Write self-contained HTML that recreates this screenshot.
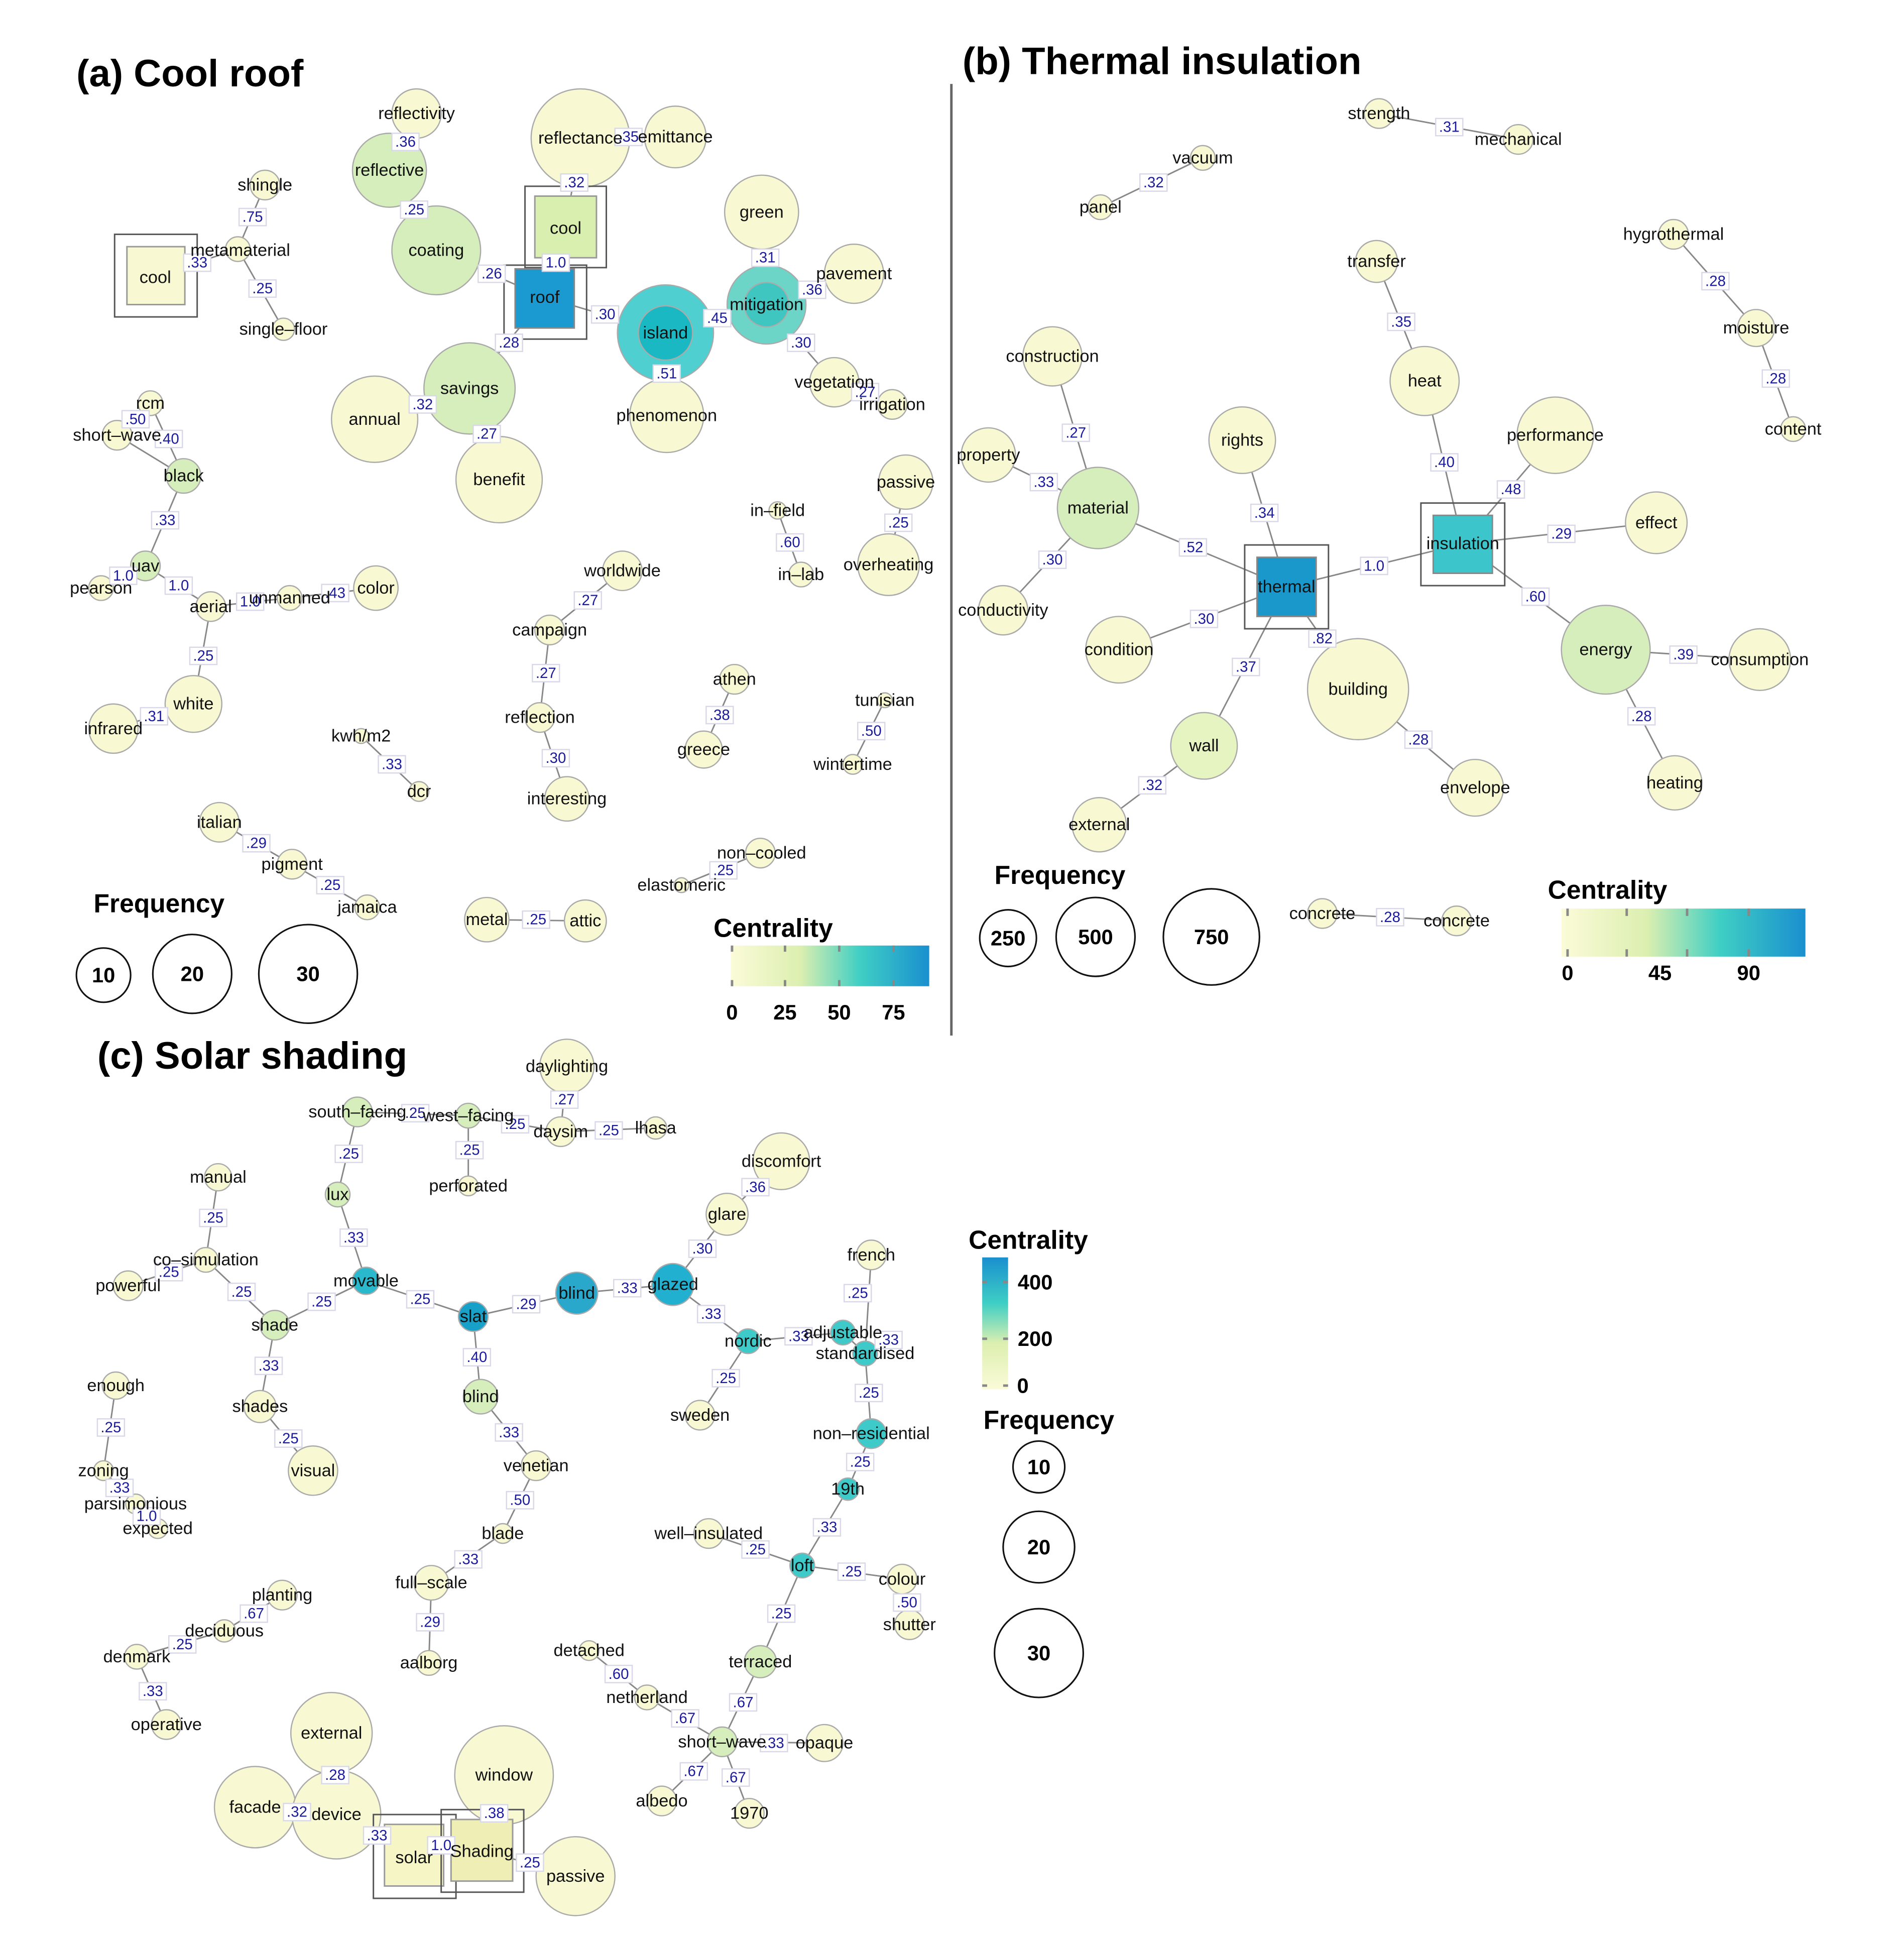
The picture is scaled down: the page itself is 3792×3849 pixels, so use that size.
<!DOCTYPE html>
<html><head><meta charset="utf-8"><style>
html,body{margin:0;padding:0;background:#fff}
svg{display:block}
text{font-family:"Liberation Sans",sans-serif}
.n{font-size:14px;text-anchor:middle;dominant-baseline:central;fill:#111}
.t{font-size:31px;font-weight:bold;font-family:"Liberation Sans",sans-serif}
.h{font-size:21px;font-weight:bold}
.lg{font-size:17px;font-weight:bold;text-anchor:middle;dominant-baseline:central}
.e line{stroke:#888;stroke-width:1.2}
.c circle{stroke:#aaa;stroke-width:1}
.y{fill:#f8f9d2}.g{fill:#d6eebb}.q{fill:#3fcaca}.b{fill:#1c9dcb}
.el rect{fill:#fff;stroke:#d8d8e8;stroke-width:1}
.el text{font-size:12px;fill:#1a1a9e;text-anchor:middle;dominant-baseline:central}
</style></head><body>
<svg width="3792" height="3849" viewBox="0 0 1545 1568" xmlns="http://www.w3.org/2000/svg">
<defs>
<linearGradient id="gh" x1="0" x2="1" y1="0" y2="0"><stop offset="0" stop-color="#fbfbd8"/><stop offset=".35" stop-color="#dcefb0"/><stop offset=".65" stop-color="#3fcfc4"/><stop offset="1" stop-color="#1a8fcf"/></linearGradient>
<linearGradient id="gv" x1="0" x2="0" y1="1" y2="0"><stop offset="0" stop-color="#fbfbd8"/><stop offset=".35" stop-color="#dcefb0"/><stop offset=".65" stop-color="#3fcfc4"/><stop offset="1" stop-color="#1a8fcf"/></linearGradient>
</defs>
<text class="t" x="62" y="70">(a) Cool roof</text>
<text class="t" x="781" y="60">(b) Thermal insulation</text>
<text class="t" x="79" y="867">(c) Solar shading</text>
<line x1="772" y1="68" x2="772" y2="840" stroke="#666" stroke-width="2"/>

<g class="e">
<line x1="126" y1="224" x2="193" y2="202"/><line x1="193" y1="202" x2="215" y2="150"/><line x1="193" y1="202" x2="230" y2="267"/>
<line x1="338" y1="92" x2="316" y2="138"/><line x1="316" y1="138" x2="354" y2="203"/><line x1="471" y1="112" x2="548" y2="111"/>
<line x1="471" y1="112" x2="459" y2="185"/><line x1="459" y1="185" x2="442" y2="241"/><line x1="354" y1="203" x2="442" y2="241"/>
<line x1="442" y1="241" x2="540" y2="270"/><line x1="540" y1="270" x2="622" y2="247"/><line x1="622" y1="247" x2="618" y2="172"/>
<line x1="622" y1="247" x2="693" y2="222"/><line x1="622" y1="247" x2="677" y2="310"/><line x1="677" y1="310" x2="724" y2="328"/>
<line x1="540" y1="270" x2="541" y2="337"/><line x1="442" y1="241" x2="381" y2="315"/><line x1="381" y1="315" x2="304" y2="340"/><line x1="381" y1="315" x2="405" y2="389"/>
<line x1="122" y1="327" x2="149" y2="386"/><line x1="95" y1="353" x2="149" y2="386"/><line x1="149" y1="386" x2="118" y2="459"/>
<line x1="118" y1="459" x2="82" y2="477"/><line x1="118" y1="459" x2="171" y2="492"/><line x1="171" y1="492" x2="235" y2="485"/>
<line x1="235" y1="485" x2="305" y2="477"/><line x1="171" y1="492" x2="157" y2="571"/><line x1="157" y1="571" x2="92" y2="591"/>
<line x1="631" y1="414" x2="650" y2="466"/><line x1="735" y1="391" x2="721" y2="458"/><line x1="505" y1="463" x2="446" y2="511"/>
<line x1="446" y1="511" x2="438" y2="582"/><line x1="438" y1="582" x2="460" y2="648"/><line x1="596" y1="551" x2="571" y2="608"/>
<line x1="718" y1="568" x2="692" y2="620"/><line x1="293" y1="597" x2="340" y2="642"/><line x1="178" y1="667" x2="237" y2="701"/>
<line x1="237" y1="701" x2="298" y2="736"/><line x1="395" y1="746" x2="475" y2="747"/><line x1="617" y1="692" x2="553" y2="718"/>

<line x1="1119" y1="92" x2="1232" y2="113"/><line x1="976" y1="128" x2="893" y2="168"/><line x1="1358" y1="190" x2="1425" y2="266"/>
<line x1="1425" y1="266" x2="1455" y2="348"/><line x1="1117" y1="212" x2="1156" y2="309"/><line x1="1156" y1="309" x2="1187" y2="441"/>
<line x1="854" y1="289" x2="891" y2="412"/><line x1="802" y1="369" x2="891" y2="412"/><line x1="891" y1="412" x2="814" y2="495"/>
<line x1="891" y1="412" x2="1044" y2="476"/><line x1="1008" y1="357" x2="1044" y2="476"/><line x1="908" y1="527" x2="1044" y2="476"/>
<line x1="1044" y1="476" x2="1187" y2="441"/><line x1="1044" y1="476" x2="1102" y2="559"/><line x1="1044" y1="476" x2="977" y2="605"/>
<line x1="977" y1="605" x2="892" y2="669"/><line x1="1102" y1="559" x2="1197" y2="639"/><line x1="1187" y1="441" x2="1262" y2="353"/>
<line x1="1187" y1="441" x2="1344" y2="424"/><line x1="1187" y1="441" x2="1303" y2="527"/><line x1="1303" y1="527" x2="1428" y2="535"/>
<line x1="1303" y1="527" x2="1359" y2="635"/><line x1="1073" y1="741" x2="1182" y2="747"/>

<line x1="460" y1="865" x2="455" y2="918"/><line x1="455" y1="918" x2="532" y2="915"/><line x1="455" y1="918" x2="380" y2="905"/>
<line x1="380" y1="905" x2="380" y2="962"/><line x1="380" y1="905" x2="290" y2="902"/><line x1="290" y1="902" x2="274" y2="969"/>
<line x1="274" y1="969" x2="297" y2="1039"/><line x1="177" y1="955" x2="167" y2="1022"/><line x1="167" y1="1022" x2="104" y2="1043"/>
<line x1="167" y1="1022" x2="223" y2="1075"/><line x1="223" y1="1075" x2="297" y2="1039"/><line x1="223" y1="1075" x2="211" y2="1141"/>
<line x1="211" y1="1141" x2="254" y2="1193"/><line x1="297" y1="1039" x2="384" y2="1068"/><line x1="384" y1="1068" x2="468" y2="1049"/>
<line x1="468" y1="1049" x2="546" y2="1042"/><line x1="546" y1="1042" x2="590" y2="985"/><line x1="590" y1="985" x2="634" y2="942"/>
<line x1="546" y1="1042" x2="607" y2="1088"/><line x1="607" y1="1088" x2="684" y2="1081"/><line x1="684" y1="1081" x2="702" y2="1098"/>
<line x1="707" y1="1018" x2="702" y2="1098"/><line x1="702" y1="1098" x2="707" y2="1163"/><line x1="607" y1="1088" x2="568" y2="1148"/>
<line x1="707" y1="1163" x2="688" y2="1208"/><line x1="688" y1="1208" x2="651" y2="1270"/><line x1="651" y1="1270" x2="575" y2="1244"/>
<line x1="651" y1="1270" x2="732" y2="1281"/><line x1="732" y1="1281" x2="738" y2="1318"/><line x1="651" y1="1270" x2="617" y2="1348"/>
<line x1="617" y1="1348" x2="586" y2="1413"/><line x1="478" y1="1339" x2="525" y2="1377"/><line x1="525" y1="1377" x2="586" y2="1413"/>
<line x1="586" y1="1413" x2="669" y2="1414"/><line x1="586" y1="1413" x2="537" y2="1461"/><line x1="586" y1="1413" x2="608" y2="1471"/>
<line x1="384" y1="1068" x2="390" y2="1133"/><line x1="390" y1="1133" x2="435" y2="1189"/><line x1="435" y1="1189" x2="408" y2="1244"/>
<line x1="408" y1="1244" x2="350" y2="1284"/><line x1="350" y1="1284" x2="348" y2="1349"/><line x1="94" y1="1124" x2="84" y2="1193"/>
<line x1="84" y1="1193" x2="110" y2="1220"/><line x1="110" y1="1220" x2="128" y2="1240"/><line x1="229" y1="1294" x2="182" y2="1323"/>
<line x1="182" y1="1323" x2="111" y2="1344"/><line x1="111" y1="1344" x2="135" y2="1399"/><line x1="269" y1="1406" x2="273" y2="1472"/>
<line x1="207" y1="1466" x2="273" y2="1472"/><line x1="273" y1="1472" x2="336" y2="1506"/><line x1="336" y1="1506" x2="391" y2="1501"/>
<line x1="409" y1="1440" x2="391" y2="1501"/><line x1="391" y1="1501" x2="467" y2="1522"/>
</g>

<g class="c">
<circle class="y" cx="193" cy="202" r="10"/><circle class="y" cx="215" cy="150" r="12"/><circle class="y" cx="230" cy="267" r="9"/>
<circle class="y" cx="338" cy="92" r="20"/><circle class="g" cx="316" cy="138" r="30"/><circle class="g" cx="354" cy="203" r="36"/>
<circle class="y" cx="471" cy="112" r="40"/><circle class="y" cx="548" cy="111" r="25"/>
<circle fill="#4fcfcf" cx="540" cy="270" r="39"/><circle fill="#19b8c2" stroke="none" cx="540" cy="270" r="22"/>
<circle fill="#6dd5c8" cx="622" cy="247" r="32"/><circle fill="#3fc6c0" stroke="none" cx="622" cy="247" r="18"/>
<circle class="y" cx="618" cy="172" r="30"/><circle class="y" cx="693" cy="222" r="24"/><circle class="y" cx="677" cy="310" r="20"/>
<circle class="y" cx="724" cy="328" r="12"/><circle class="y" cx="541" cy="337" r="30"/><circle class="g" cx="381" cy="315" r="37"/>
<circle class="y" cx="304" cy="340" r="35"/><circle class="y" cx="405" cy="389" r="35"/>
<circle class="y" cx="122" cy="327" r="10"/><circle class="y" cx="95" cy="353" r="12"/><circle class="g" cx="149" cy="386" r="14"/>
<circle class="g" cx="118" cy="459" r="12"/><circle class="y" cx="82" cy="477" r="10"/><circle class="y" cx="171" cy="492" r="12"/>
<circle class="y" cx="235" cy="485" r="10"/><circle class="y" cx="305" cy="477" r="18"/><circle class="y" cx="157" cy="571" r="23"/>
<circle class="y" cx="92" cy="591" r="20"/><circle class="y" cx="631" cy="414" r="7"/><circle class="y" cx="650" cy="466" r="10"/>
<circle class="y" cx="735" cy="391" r="22"/><circle class="y" cx="721" cy="458" r="25"/><circle class="y" cx="505" cy="463" r="16"/>
<circle class="y" cx="446" cy="511" r="12"/><circle class="y" cx="438" cy="582" r="12"/><circle class="y" cx="460" cy="648" r="18"/>
<circle class="y" cx="596" cy="551" r="12"/><circle class="y" cx="571" cy="608" r="15"/><circle class="y" cx="718" cy="568" r="6"/>
<circle class="y" cx="692" cy="620" r="8"/><circle class="y" cx="293" cy="597" r="6"/><circle class="y" cx="340" cy="642" r="8"/>
<circle class="y" cx="178" cy="667" r="16"/><circle class="y" cx="237" cy="701" r="12"/><circle class="y" cx="298" cy="736" r="10"/>
<circle class="y" cx="395" cy="746" r="18"/><circle class="y" cx="475" cy="747" r="17"/><circle class="y" cx="617" cy="692" r="12"/><circle class="y" cx="553" cy="718" r="6"/>
<circle class="y" cx="1119" cy="92" r="12"/><circle class="y" cx="1232" cy="113" r="12"/><circle class="y" cx="976" cy="128" r="10"/>
<circle class="y" cx="893" cy="168" r="10"/><circle class="y" cx="1358" cy="190" r="12"/><circle class="y" cx="1425" cy="266" r="15"/>
<circle class="y" cx="1455" cy="348" r="10"/><circle class="y" cx="1117" cy="212" r="17"/><circle class="y" cx="1156" cy="309" r="28"/>
<circle class="y" cx="854" cy="289" r="24"/><circle class="y" cx="802" cy="369" r="22"/><circle class="g" cx="891" cy="412" r="33"/>
<circle class="y" cx="814" cy="495" r="20"/><circle class="y" cx="1008" cy="357" r="27"/><circle class="y" cx="908" cy="527" r="27"/>
<circle class="y" cx="1262" cy="353" r="31"/><circle class="y" cx="1344" cy="424" r="25"/><circle class="g" cx="1303" cy="527" r="36"/>
<circle class="y" cx="1428" cy="535" r="25"/><circle class="y" cx="1359" cy="635" r="22"/><circle class="y" cx="1102" cy="559" r="41"/>
<circle class="y" cx="1197" cy="639" r="23"/><circle fill="#e6f4c2" cx="977" cy="605" r="27"/><circle class="y" cx="892" cy="669" r="22"/>
<circle class="y" cx="1073" cy="741" r="12"/><circle class="y" cx="1182" cy="747" r="12"/>
<circle class="y" cx="460" cy="865" r="22"/><circle class="y" cx="455" cy="918" r="12"/><circle class="y" cx="532" cy="915" r="9"/>
<circle class="g" cx="380" cy="905" r="10"/><circle class="y" cx="380" cy="962" r="8"/><circle class="g" cx="290" cy="902" r="12"/>
<circle class="g" cx="274" cy="969" r="10"/><circle fill="#2ab8cc" cx="297" cy="1039" r="11"/><circle class="y" cx="177" cy="955" r="11"/>
<circle class="y" cx="167" cy="1022" r="10"/><circle class="y" cx="104" cy="1043" r="12"/><circle class="g" cx="223" cy="1075" r="12"/>
<circle class="y" cx="211" cy="1141" r="13"/><circle class="y" cx="254" cy="1193" r="20"/><circle fill="#17a0c8" cx="384" cy="1068" r="12"/>
<circle fill="#2aa8cc" cx="468" cy="1049" r="17"/><circle fill="#22b0d0" cx="546" cy="1042" r="17"/><circle class="y" cx="634" cy="942" r="23"/>
<circle class="y" cx="590" cy="985" r="17"/><circle class="q" cx="607" cy="1088" r="10"/><circle class="q" cx="684" cy="1081" r="10"/>
<circle class="q" cx="702" cy="1098" r="10"/><circle class="y" cx="707" cy="1018" r="12"/><circle class="y" cx="568" cy="1148" r="12"/>
<circle class="q" cx="707" cy="1163" r="12"/><circle class="q" cx="688" cy="1208" r="9"/><circle class="q" cx="651" cy="1270" r="10"/>
<circle class="y" cx="575" cy="1244" r="12"/><circle class="y" cx="732" cy="1281" r="12"/><circle class="y" cx="738" cy="1318" r="12"/>
<circle class="g" cx="617" cy="1348" r="13"/><circle class="y" cx="478" cy="1339" r="8"/><circle class="y" cx="525" cy="1377" r="10"/>
<circle class="g" cx="586" cy="1413" r="12"/><circle class="y" cx="669" cy="1414" r="15"/><circle class="y" cx="537" cy="1461" r="12"/>
<circle class="y" cx="608" cy="1471" r="12"/><circle class="g" cx="390" cy="1133" r="14"/><circle class="y" cx="435" cy="1189" r="12"/>
<circle class="y" cx="408" cy="1244" r="8"/><circle class="y" cx="350" cy="1284" r="14"/><circle class="y" cx="348" cy="1349" r="10"/>
<circle class="y" cx="94" cy="1124" r="11"/><circle class="y" cx="84" cy="1193" r="8"/><circle class="y" cx="110" cy="1220" r="8"/>
<circle class="y" cx="128" cy="1240" r="8"/><circle class="y" cx="229" cy="1294" r="12"/><circle class="y" cx="182" cy="1323" r="9"/>
<circle class="y" cx="111" cy="1344" r="10"/><circle class="y" cx="135" cy="1399" r="12"/><circle class="y" cx="269" cy="1406" r="33"/>
<circle class="y" cx="207" cy="1466" r="33"/><circle class="y" cx="273" cy="1472" r="36"/><circle class="y" cx="409" cy="1440" r="40"/>
<circle class="y" cx="467" cy="1522" r="32"/>
</g>

<g stroke="#555" stroke-width="1.2" fill="none">
<rect x="93" y="190" width="67" height="67"/><rect x="103" y="200" width="47" height="47" fill="#f8f9d2" stroke="#999"/>
<rect x="426" y="151" width="66" height="66"/><rect x="434" y="159" width="50" height="50" fill="#d9efb0" stroke="#999"/>
<rect x="409" y="215" width="67" height="60"/><rect x="418" y="218" width="48" height="48" fill="#1a9ad0" stroke="#888"/>
<rect x="1010" y="442" width="68" height="68"/><rect x="1020" y="452" width="48" height="48" fill="#1a98cc" stroke="#888"/>
<rect x="1153" y="408" width="68" height="67"/><rect x="1163" y="418" width="48" height="47" fill="#3cc6cc" stroke="#888"/>
<rect x="303" y="1472" width="67" height="68"/><rect x="312" y="1480" width="48" height="50" fill="#f5f5c5" stroke="#999"/>
<rect x="358" y="1468" width="67" height="67"/><rect x="366" y="1476" width="50" height="50" fill="#eeeeb5" stroke="#999"/>
</g>

<g class="el">
<g transform="translate(205,176)"><rect x="-11" y="-7" width="22" height="14"/><text>.75</text></g>
<g transform="translate(160,213)"><rect x="-11" y="-7" width="22" height="14"/><text>.33</text></g>
<g transform="translate(213,234)"><rect x="-11" y="-7" width="22" height="14"/><text>.25</text></g>
<g transform="translate(329,115)"><rect x="-11" y="-7" width="22" height="14"/><text>.36</text></g>
<g transform="translate(336,170)"><rect x="-11" y="-7" width="22" height="14"/><text>.25</text></g>
<g transform="translate(510,111)"><rect x="-11" y="-7" width="22" height="14"/><text>.35</text></g>
<g transform="translate(466,148)"><rect x="-11" y="-7" width="22" height="14"/><text>.32</text></g>
<g transform="translate(451,213)"><rect x="-11" y="-7" width="22" height="14"/><text>1.0</text></g>
<g transform="translate(399,222)"><rect x="-11" y="-7" width="22" height="14"/><text>.26</text></g>
<g transform="translate(491,255)"><rect x="-11" y="-7" width="22" height="14"/><text>.30</text></g>
<g transform="translate(582,258)"><rect x="-11" y="-7" width="22" height="14"/><text>.45</text></g>
<g transform="translate(621,209)"><rect x="-11" y="-7" width="22" height="14"/><text>.31</text></g>
<g transform="translate(659,235)"><rect x="-11" y="-7" width="22" height="14"/><text>.36</text></g>
<g transform="translate(650,278)"><rect x="-11" y="-7" width="22" height="14"/><text>.30</text></g>
<g transform="translate(702,318)"><rect x="-11" y="-7" width="22" height="14"/><text>.27</text></g>
<g transform="translate(541,303)"><rect x="-11" y="-7" width="22" height="14"/><text>.51</text></g>
<g transform="translate(413,278)"><rect x="-11" y="-7" width="22" height="14"/><text>.28</text></g>
<g transform="translate(343,328)"><rect x="-11" y="-7" width="22" height="14"/><text>.32</text></g>
<g transform="translate(395,352)"><rect x="-11" y="-7" width="22" height="14"/><text>.27</text></g>
<g transform="translate(110,340)"><rect x="-11" y="-7" width="22" height="14"/><text>.50</text></g>
<g transform="translate(137,356)"><rect x="-11" y="-7" width="22" height="14"/><text>.40</text></g>
<g transform="translate(134,422)"><rect x="-11" y="-7" width="22" height="14"/><text>.33</text></g>
<g transform="translate(100,467)"><rect x="-11" y="-7" width="22" height="14"/><text>1.0</text></g>
<g transform="translate(145,475)"><rect x="-11" y="-7" width="22" height="14"/><text>1.0</text></g>
<g transform="translate(203,488)"><rect x="-11" y="-7" width="22" height="14"/><text>1.0</text></g>
<g transform="translate(272,481)"><rect x="-11" y="-7" width="22" height="14"/><text>.43</text></g>
<g transform="translate(165,532)"><rect x="-11" y="-7" width="22" height="14"/><text>.25</text></g>
<g transform="translate(125,581)"><rect x="-11" y="-7" width="22" height="14"/><text>.31</text></g>
<g transform="translate(641,440)"><rect x="-11" y="-7" width="22" height="14"/><text>.60</text></g>
<g transform="translate(729,424)"><rect x="-11" y="-7" width="22" height="14"/><text>.25</text></g>
<g transform="translate(477,487)"><rect x="-11" y="-7" width="22" height="14"/><text>.27</text></g>
<g transform="translate(443,546)"><rect x="-11" y="-7" width="22" height="14"/><text>.27</text></g>
<g transform="translate(451,615)"><rect x="-11" y="-7" width="22" height="14"/><text>.30</text></g>
<g transform="translate(584,580)"><rect x="-11" y="-7" width="22" height="14"/><text>.38</text></g>
<g transform="translate(707,593)"><rect x="-11" y="-7" width="22" height="14"/><text>.50</text></g>
<g transform="translate(318,620)"><rect x="-11" y="-7" width="22" height="14"/><text>.33</text></g>
<g transform="translate(208,684)"><rect x="-11" y="-7" width="22" height="14"/><text>.29</text></g>
<g transform="translate(268,718)"><rect x="-11" y="-7" width="22" height="14"/><text>.25</text></g>
<g transform="translate(435,746)"><rect x="-11" y="-7" width="22" height="14"/><text>.25</text></g>
<g transform="translate(587,706)"><rect x="-11" y="-7" width="22" height="14"/><text>.25</text></g>
<g transform="translate(1176,103)"><rect x="-11" y="-7" width="22" height="14"/><text>.31</text></g>
<g transform="translate(936,148)"><rect x="-11" y="-7" width="22" height="14"/><text>.32</text></g>
<g transform="translate(1392,228)"><rect x="-11" y="-7" width="22" height="14"/><text>.28</text></g>
<g transform="translate(1441,307)"><rect x="-11" y="-7" width="22" height="14"/><text>.28</text></g>
<g transform="translate(1137,261)"><rect x="-11" y="-7" width="22" height="14"/><text>.35</text></g>
<g transform="translate(873,351)"><rect x="-11" y="-7" width="22" height="14"/><text>.27</text></g>
<g transform="translate(847,391)"><rect x="-11" y="-7" width="22" height="14"/><text>.33</text></g>
<g transform="translate(854,454)"><rect x="-11" y="-7" width="22" height="14"/><text>.30</text></g>
<g transform="translate(1026,416)"><rect x="-11" y="-7" width="22" height="14"/><text>.34</text></g>
<g transform="translate(968,444)"><rect x="-11" y="-7" width="22" height="14"/><text>.52</text></g>
<g transform="translate(977,502)"><rect x="-11" y="-7" width="22" height="14"/><text>.30</text></g>
<g transform="translate(1115,459)"><rect x="-11" y="-7" width="22" height="14"/><text>1.0</text></g>
<g transform="translate(1172,375)"><rect x="-11" y="-7" width="22" height="14"/><text>.40</text></g>
<g transform="translate(1226,397)"><rect x="-11" y="-7" width="22" height="14"/><text>.48</text></g>
<g transform="translate(1267,433)"><rect x="-11" y="-7" width="22" height="14"/><text>.29</text></g>
<g transform="translate(1246,484)"><rect x="-11" y="-7" width="22" height="14"/><text>.60</text></g>
<g transform="translate(1366,531)"><rect x="-11" y="-7" width="22" height="14"/><text>.39</text></g>
<g transform="translate(1332,581)"><rect x="-11" y="-7" width="22" height="14"/><text>.28</text></g>
<g transform="translate(1073,518)"><rect x="-11" y="-7" width="22" height="14"/><text>.82</text></g>
<g transform="translate(1151,600)"><rect x="-11" y="-7" width="22" height="14"/><text>.28</text></g>
<g transform="translate(1011,541)"><rect x="-11" y="-7" width="22" height="14"/><text>.37</text></g>
<g transform="translate(935,637)"><rect x="-11" y="-7" width="22" height="14"/><text>.32</text></g>
<g transform="translate(1128,744)"><rect x="-11" y="-7" width="22" height="14"/><text>.28</text></g>
<g transform="translate(458,892)"><rect x="-11" y="-7" width="22" height="14"/><text>.27</text></g>
<g transform="translate(494,917)"><rect x="-11" y="-7" width="22" height="14"/><text>.25</text></g>
<g transform="translate(418,912)"><rect x="-11" y="-7" width="22" height="14"/><text>.25</text></g>
<g transform="translate(381,933)"><rect x="-11" y="-7" width="22" height="14"/><text>.25</text></g>
<g transform="translate(337,903)"><rect x="-11" y="-7" width="22" height="14"/><text>.25</text></g>
<g transform="translate(283,936)"><rect x="-11" y="-7" width="22" height="14"/><text>.25</text></g>
<g transform="translate(287,1004)"><rect x="-11" y="-7" width="22" height="14"/><text>.33</text></g>
<g transform="translate(173,988)"><rect x="-11" y="-7" width="22" height="14"/><text>.25</text></g>
<g transform="translate(137,1032)"><rect x="-11" y="-7" width="22" height="14"/><text>.25</text></g>
<g transform="translate(196,1048)"><rect x="-11" y="-7" width="22" height="14"/><text>.25</text></g>
<g transform="translate(261,1056)"><rect x="-11" y="-7" width="22" height="14"/><text>.25</text></g>
<g transform="translate(218,1108)"><rect x="-11" y="-7" width="22" height="14"/><text>.33</text></g>
<g transform="translate(234,1167)"><rect x="-11" y="-7" width="22" height="14"/><text>.25</text></g>
<g transform="translate(341,1054)"><rect x="-11" y="-7" width="22" height="14"/><text>.25</text></g>
<g transform="translate(427,1058)"><rect x="-11" y="-7" width="22" height="14"/><text>.29</text></g>
<g transform="translate(509,1045)"><rect x="-11" y="-7" width="22" height="14"/><text>.33</text></g>
<g transform="translate(613,963)"><rect x="-11" y="-7" width="22" height="14"/><text>.36</text></g>
<g transform="translate(570,1013)"><rect x="-11" y="-7" width="22" height="14"/><text>.30</text></g>
<g transform="translate(577,1066)"><rect x="-11" y="-7" width="22" height="14"/><text>.33</text></g>
<g transform="translate(648,1084)"><rect x="-11" y="-7" width="22" height="14"/><text>.33</text></g>
<g transform="translate(721,1087)"><rect x="-11" y="-7" width="22" height="14"/><text>.33</text></g>
<g transform="translate(696,1049)"><rect x="-11" y="-7" width="22" height="14"/><text>.25</text></g>
<g transform="translate(589,1118)"><rect x="-11" y="-7" width="22" height="14"/><text>.25</text></g>
<g transform="translate(705,1130)"><rect x="-11" y="-7" width="22" height="14"/><text>.25</text></g>
<g transform="translate(698,1186)"><rect x="-11" y="-7" width="22" height="14"/><text>.25</text></g>
<g transform="translate(671,1239)"><rect x="-11" y="-7" width="22" height="14"/><text>.33</text></g>
<g transform="translate(613,1257)"><rect x="-11" y="-7" width="22" height="14"/><text>.25</text></g>
<g transform="translate(691,1275)"><rect x="-11" y="-7" width="22" height="14"/><text>.25</text></g>
<g transform="translate(736,1300)"><rect x="-11" y="-7" width="22" height="14"/><text>.50</text></g>
<g transform="translate(634,1309)"><rect x="-11" y="-7" width="22" height="14"/><text>.25</text></g>
<g transform="translate(502,1358)"><rect x="-11" y="-7" width="22" height="14"/><text>.60</text></g>
<g transform="translate(556,1394)"><rect x="-11" y="-7" width="22" height="14"/><text>.67</text></g>
<g transform="translate(603,1381)"><rect x="-11" y="-7" width="22" height="14"/><text>.67</text></g>
<g transform="translate(628,1414)"><rect x="-11" y="-7" width="22" height="14"/><text>.33</text></g>
<g transform="translate(563,1437)"><rect x="-11" y="-7" width="22" height="14"/><text>.67</text></g>
<g transform="translate(597,1442)"><rect x="-11" y="-7" width="22" height="14"/><text>.67</text></g>
<g transform="translate(387,1101)"><rect x="-11" y="-7" width="22" height="14"/><text>.40</text></g>
<g transform="translate(413,1162)"><rect x="-11" y="-7" width="22" height="14"/><text>.33</text></g>
<g transform="translate(422,1217)"><rect x="-11" y="-7" width="22" height="14"/><text>.50</text></g>
<g transform="translate(380,1265)"><rect x="-11" y="-7" width="22" height="14"/><text>.33</text></g>
<g transform="translate(349,1316)"><rect x="-11" y="-7" width="22" height="14"/><text>.29</text></g>
<g transform="translate(90,1158)"><rect x="-11" y="-7" width="22" height="14"/><text>.25</text></g>
<g transform="translate(97,1207)"><rect x="-11" y="-7" width="22" height="14"/><text>.33</text></g>
<g transform="translate(119,1230)"><rect x="-11" y="-7" width="22" height="14"/><text>1.0</text></g>
<g transform="translate(206,1309)"><rect x="-11" y="-7" width="22" height="14"/><text>.67</text></g>
<g transform="translate(148,1334)"><rect x="-11" y="-7" width="22" height="14"/><text>.25</text></g>
<g transform="translate(124,1372)"><rect x="-11" y="-7" width="22" height="14"/><text>.33</text></g>
<g transform="translate(272,1440)"><rect x="-11" y="-7" width="22" height="14"/><text>.28</text></g>
<g transform="translate(241,1470)"><rect x="-11" y="-7" width="22" height="14"/><text>.32</text></g>
<g transform="translate(306,1489)"><rect x="-11" y="-7" width="22" height="14"/><text>.33</text></g>
<g transform="translate(358,1497)"><rect x="-11" y="-7" width="22" height="14"/><text>1.0</text></g>
<g transform="translate(401,1471)"><rect x="-11" y="-7" width="22" height="14"/><text>.38</text></g>
<g transform="translate(430,1511)"><rect x="-11" y="-7" width="22" height="14"/><text>.25</text></g>
</g>

<g>
<text class="n" x="126" y="225">cool</text><text class="n" x="195" y="203">metamaterial</text><text class="n" x="215" y="150">shingle</text>
<text class="n" x="230" y="267">single–floor</text><text class="n" x="338" y="92">reflectivity</text><text class="n" x="316" y="138">reflective</text>
<text class="n" x="354" y="203">coating</text><text class="n" x="471" y="112">reflectance</text><text class="n" x="548" y="111">emittance</text>
<text class="n" x="459" y="185">cool</text><text class="n" x="442" y="241">roof</text><text class="n" x="540" y="270">island</text>
<text class="n" x="622" y="247">mitigation</text><text class="n" x="618" y="172">green</text><text class="n" x="693" y="222">pavement</text>
<text class="n" x="677" y="310">vegetation</text><text class="n" x="724" y="328">irrigation</text><text class="n" x="541" y="337">phenomenon</text>
<text class="n" x="381" y="315">savings</text><text class="n" x="304" y="340">annual</text><text class="n" x="405" y="389">benefit</text>
<text class="n" x="122" y="327">rcm</text><text class="n" x="95" y="353">short–wave</text><text class="n" x="149" y="386">black</text>
<text class="n" x="118" y="459">uav</text><text class="n" x="82" y="477">pearson</text><text class="n" x="171" y="492">aerial</text>
<text class="n" x="235" y="485">unmanned</text><text class="n" x="305" y="477">color</text><text class="n" x="157" y="571">white</text>
<text class="n" x="92" y="591">infrared</text><text class="n" x="631" y="414">in–field</text><text class="n" x="650" y="466">in–lab</text>
<text class="n" x="735" y="391">passive</text><text class="n" x="721" y="458">overheating</text><text class="n" x="505" y="463">worldwide</text>
<text class="n" x="446" y="511">campaign</text><text class="n" x="438" y="582">reflection</text><text class="n" x="460" y="648">interesting</text>
<text class="n" x="596" y="551">athen</text><text class="n" x="571" y="608">greece</text><text class="n" x="718" y="568">tunisian</text>
<text class="n" x="692" y="620">wintertime</text><text class="n" x="293" y="597">kwh/m2</text><text class="n" x="340" y="642">dcr</text>
<text class="n" x="178" y="667">italian</text><text class="n" x="237" y="701">pigment</text><text class="n" x="298" y="736">jamaica</text>
<text class="n" x="395" y="746">metal</text><text class="n" x="475" y="747">attic</text><text class="n" x="618" y="692">non–cooled</text>
<text class="n" x="553" y="718">elastomeric</text>
<text class="n" x="1119" y="92">strength</text><text class="n" x="1232" y="113">mechanical</text><text class="n" x="976" y="128">vacuum</text>
<text class="n" x="893" y="168">panel</text><text class="n" x="1358" y="190">hygrothermal</text><text class="n" x="1425" y="266">moisture</text>
<text class="n" x="1455" y="348">content</text><text class="n" x="1117" y="212">transfer</text><text class="n" x="1156" y="309">heat</text>
<text class="n" x="854" y="289">construction</text><text class="n" x="802" y="369">property</text><text class="n" x="891" y="412">material</text>
<text class="n" x="814" y="495">conductivity</text><text class="n" x="1008" y="357">rights</text><text class="n" x="908" y="527">condition</text>
<text class="n" x="1044" y="476">thermal</text><text class="n" x="1187" y="441">insulation</text><text class="n" x="1262" y="353">performance</text>
<text class="n" x="1344" y="424">effect</text><text class="n" x="1303" y="527">energy</text><text class="n" x="1428" y="535">consumption</text>
<text class="n" x="1359" y="635">heating</text><text class="n" x="1102" y="559">building</text><text class="n" x="1197" y="639">envelope</text>
<text class="n" x="977" y="605">wall</text><text class="n" x="892" y="669">external</text><text class="n" x="1073" y="741">concrete</text>
<text class="n" x="1182" y="747">concrete</text>
<text class="n" x="460" y="865">daylighting</text><text class="n" x="455" y="918">daysim</text><text class="n" x="532" y="915">lhasa</text>
<text class="n" x="380" y="905">west–facing</text><text class="n" x="380" y="962">perforated</text><text class="n" x="290" y="902">south–facing</text>
<text class="n" x="274" y="969">lux</text><text class="n" x="297" y="1039">movable</text><text class="n" x="177" y="955">manual</text>
<text class="n" x="167" y="1022">co–simulation</text><text class="n" x="104" y="1043">powerful</text><text class="n" x="223" y="1075">shade</text>
<text class="n" x="211" y="1141">shades</text><text class="n" x="254" y="1193">visual</text><text class="n" x="384" y="1068">slat</text>
<text class="n" x="468" y="1049">blind</text><text class="n" x="546" y="1042">glazed</text><text class="n" x="634" y="942">discomfort</text>
<text class="n" x="590" y="985">glare</text><text class="n" x="607" y="1088">nordic</text><text class="n" x="684" y="1081">adjustable</text>
<text class="n" x="702" y="1098">standardised</text><text class="n" x="707" y="1018">french</text><text class="n" x="568" y="1148">sweden</text>
<text class="n" x="707" y="1163">non–residential</text><text class="n" x="688" y="1208">19th</text><text class="n" x="651" y="1270">loft</text>
<text class="n" x="575" y="1244">well–insulated</text><text class="n" x="732" y="1281">colour</text><text class="n" x="738" y="1318">shutter</text>
<text class="n" x="617" y="1348">terraced</text><text class="n" x="478" y="1339">detached</text><text class="n" x="525" y="1377">netherland</text>
<text class="n" x="586" y="1413">short–wave</text><text class="n" x="669" y="1414">opaque</text><text class="n" x="537" y="1461">albedo</text>
<text class="n" x="608" y="1471">1970</text><text class="n" x="390" y="1133">blind</text><text class="n" x="435" y="1189">venetian</text>
<text class="n" x="408" y="1244">blade</text><text class="n" x="350" y="1284">full–scale</text><text class="n" x="348" y="1349">aalborg</text>
<text class="n" x="94" y="1124">enough</text><text class="n" x="84" y="1193">zoning</text><text class="n" x="110" y="1220">parsimonious</text>
<text class="n" x="128" y="1240">expected</text><text class="n" x="229" y="1294">planting</text><text class="n" x="182" y="1323">deciduous</text>
<text class="n" x="111" y="1344">denmark</text><text class="n" x="135" y="1399">operative</text><text class="n" x="269" y="1406">external</text>
<text class="n" x="207" y="1466">facade</text><text class="n" x="273" y="1472">device</text><text class="n" x="409" y="1440">window</text>
<text class="n" x="467" y="1522">passive</text><text class="n" x="336" y="1507">solar</text><text class="n" x="391" y="1502">Shading</text>
</g>

<g fill="none" stroke="#111" stroke-width="1.3">
<circle cx="84" cy="791" r="22"/><circle cx="156" cy="790" r="32"/><circle cx="250" cy="790" r="40"/>
<circle cx="818" cy="761" r="23"/><circle cx="889" cy="760" r="32"/><circle cx="983" cy="760" r="39"/>
<circle cx="843" cy="1190" r="21"/><circle cx="843" cy="1255" r="29"/><circle cx="843" cy="1341" r="36"/>
</g>
<text class="h" x="76" y="740">Frequency</text>
<text class="lg" x="84" y="791">10</text><text class="lg" x="156" y="790">20</text><text class="lg" x="250" y="790">30</text>
<text class="h" x="579" y="760">Centrality</text>
<rect x="593" y="767" width="161" height="33" fill="url(#gh)"/>
<g stroke="#888" stroke-width="2"><line x1="594" y1="767" x2="594" y2="772"/><line x1="594" y1="795" x2="594" y2="800"/><line x1="637" y1="767" x2="637" y2="772"/><line x1="637" y1="795" x2="637" y2="800"/><line x1="681" y1="767" x2="681" y2="772"/><line x1="681" y1="795" x2="681" y2="800"/><line x1="725" y1="767" x2="725" y2="772"/><line x1="725" y1="795" x2="725" y2="800"/></g>
<text class="lg" x="594" y="821">0</text><text class="lg" x="637" y="821">25</text><text class="lg" x="681" y="821">50</text><text class="lg" x="725" y="821">75</text>

<text class="h" x="807" y="717">Frequency</text>
<text class="lg" x="818" y="761">250</text><text class="lg" x="889" y="760">500</text><text class="lg" x="983" y="760">750</text>
<text class="h" x="1256" y="729">Centrality</text>
<rect x="1267" y="737" width="198" height="39" fill="url(#gh)"/>
<g stroke="#888" stroke-width="2"><line x1="1272" y1="737" x2="1272" y2="743"/><line x1="1272" y1="770" x2="1272" y2="776"/><line x1="1320" y1="737" x2="1320" y2="743"/><line x1="1320" y1="770" x2="1320" y2="776"/><line x1="1369" y1="737" x2="1369" y2="743"/><line x1="1369" y1="770" x2="1369" y2="776"/><line x1="1419" y1="737" x2="1419" y2="743"/><line x1="1419" y1="770" x2="1419" y2="776"/></g>
<text class="lg" x="1272" y="789">0</text><text class="lg" x="1347" y="789">45</text><text class="lg" x="1419" y="789">90</text>

<text class="h" x="786" y="1013">Centrality</text>
<rect x="797" y="1020" width="21" height="107" fill="url(#gv)"/>
<g stroke="#888" stroke-width="2"><line x1="797" y1="1040" x2="801" y2="1040"/><line x1="814" y1="1040" x2="818" y2="1040"/><line x1="797" y1="1086" x2="801" y2="1086"/><line x1="814" y1="1086" x2="818" y2="1086"/><line x1="797" y1="1124" x2="801" y2="1124"/><line x1="814" y1="1124" x2="818" y2="1124"/></g>
<text class="lg" x="840" y="1040">400</text><text class="lg" x="840" y="1086">200</text><text class="lg" x="830" y="1124">0</text>
<text class="h" x="798" y="1159">Frequency</text>
<text class="lg" x="843" y="1190">10</text><text class="lg" x="843" y="1255">20</text><text class="lg" x="843" y="1341">30</text>
</svg>
</body></html>
